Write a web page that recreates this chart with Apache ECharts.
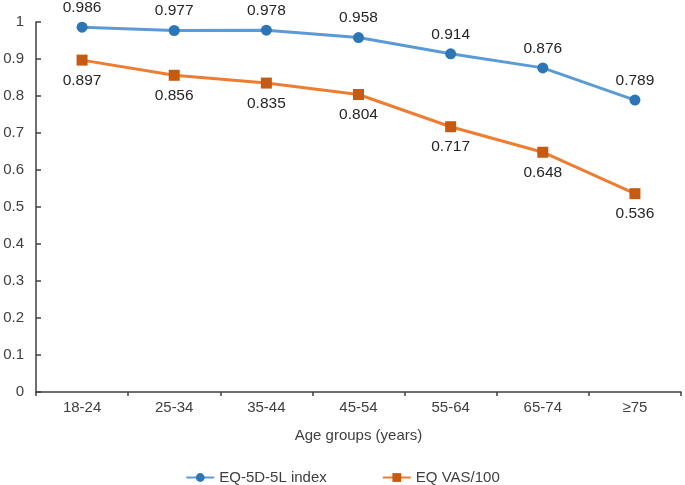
<!DOCTYPE html>
<html>
<head>
<meta charset="utf-8">
<script src="https://cdn.jsdelivr.net/npm/echarts@6/dist/echarts.min.js"></script>
<style>
  html, body { margin: 0; padding: 0; background: #fff; }
  #chart { width: 685px; height: 485px; }
</style>
</head>
<body>
<div id="chart"></div>
<script>
var ageGroups = ['18-24', '25-34', '35-44', '45-54', '55-64', '65-74', '≥75']
var eq5dIndex = [0.986, 0.977, 0.978, 0.958, 0.914, 0.876, 0.789]
var eqVas = [0.897, 0.856, 0.835, 0.804, 0.717, 0.648, 0.536]

var chart = echarts.init(document.getElementById('chart'))
var font = 'Liberation Sans, Arial, sans-serif'

chart.setOption({
  animation: false,
  textStyle: { fontFamily: font },
  grid: {
    left: 36,
    right: 4,
    top: 22,
    bottom: 93,
    containLabel: false
  },
  xAxis: {
    type: 'category',
    data: ageGroups,
    boundaryGap: true,
    name: 'Age groups (years)',
    nameLocation: 'middle',
    nameGap: 36,
    nameTextStyle: { color: '#404040', fontSize: 15, fontFamily: font },
    axisLine: { lineStyle: { color: '#404040', width: 1.5 } },
    axisTick: { show: true, inside: false, length: 4, lineStyle: { color: '#404040', width: 1.5 } },
    axisLabel: { color: '#404040', fontSize: 15, margin: 8, fontFamily: font }
  },
  yAxis: {
    type: 'value',
    min: 0,
    max: 1,
    interval: 0.1,
    axisLine: { show: true, lineStyle: { color: '#404040', width: 1.5 } },
    axisTick: { show: true, inside: true, length: 5, lineStyle: { color: '#404040', width: 1.5 } },
    splitLine: { show: false },
    axisLabel: {
      color: '#404040',
      fontSize: 15,
      margin: 12,
      fontFamily: font,
      formatter: function (v) {
        return String(Math.round(v * 10) / 10)
      }
    }
  },
  legend: {
    top: 465,
    left: 'center',
    itemGap: 55,
    itemWidth: 28,
    itemHeight: 11,
    textStyle: { color: '#404040', fontSize: 15, fontFamily: font },
    data: ['EQ-5D-5L index', 'EQ VAS/100']
  },
  series: [{
    name: 'EQ-5D-5L index',
    type: 'line',
    data: eq5dIndex,
    symbol: 'circle',
    symbolSize: 11,
    lineStyle: { color: '#5B9BD5', width: 3 },
    itemStyle: { color: '#2E75B6' },
    label: {
      show: true,
      position: 'top',
      distance: 6,
      color: '#262626',
      fontSize: 15.5,
      fontFamily: font,
      formatter: function (p) { return p.value.toFixed(3) }
    }
  }, {
    name: 'EQ VAS/100',
    type: 'line',
    data: eqVas,
    symbol: 'rect',
    symbolSize: 11,
    lineStyle: { color: '#ED7D31', width: 3 },
    itemStyle: { color: '#C55A11' },
    label: {
      show: true,
      position: 'bottom',
      distance: 7,
      color: '#262626',
      fontSize: 15.5,
      fontFamily: font,
      formatter: function (p) { return p.value.toFixed(3) }
    }
  }]
})
</script>
</body>
</html>
